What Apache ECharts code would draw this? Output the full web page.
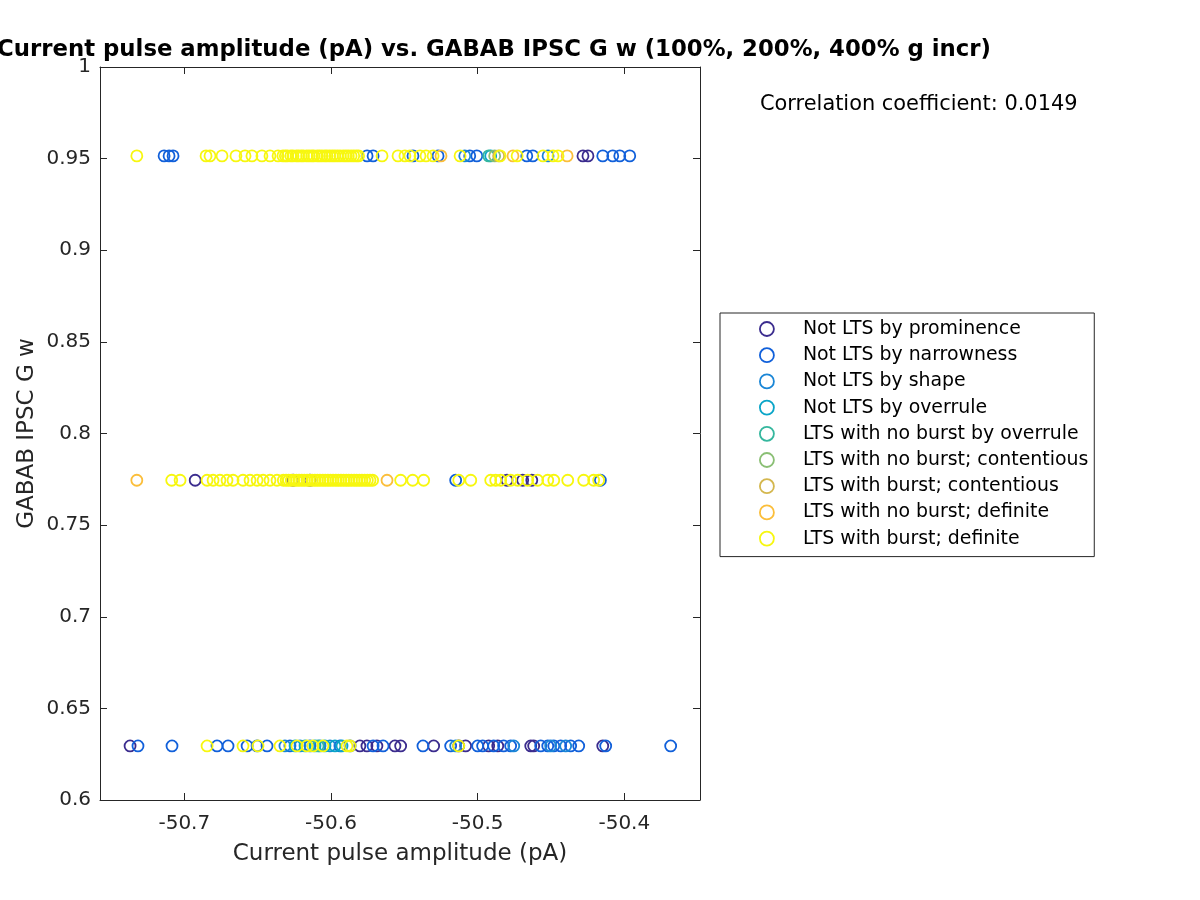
<!DOCTYPE html>
<html>
<head>
<meta charset="utf-8">
<script src="https://cdn.jsdelivr.net/npm/echarts@6/dist/echarts.min.js"></script>
<style>
html,body{margin:0;padding:0;background:#fff;}
#chart{width:1200px;height:900px;}
</style>
</head>
<body>
<div id="chart"></div>
<script>
// Row levels (GABAB IPSC G w)
const yHi = 0.9515, yMid = 0.7745, yLo = 0.6295;

const seriesNames = [
  'Not LTS by prominence','Not LTS by narrowness','Not LTS by shape','Not LTS by overrule',
  'LTS with no burst by overrule','LTS with no burst; contentious','LTS with burst; contentious',
  'LTS with no burst; definite','LTS with burst; definite'
];
const seriesColors = ['#3B2C8E','#1160DA','#1A86D6','#0AA5C8','#35B79E','#8ABF74','#D4B74E','#FBBE3A','#F7F70F'];

const xTicks = [-50.7, -50.6, -50.5, -50.4];
const yTicks = [0.6, 0.65, 0.7, 0.75, 0.8, 0.85, 0.9, 0.95, 1];

// Not LTS by prominence
const s1_hi = [-50.4282, -50.4248];
const s1_mid = [-50.6926, -50.6259, -50.6143, -50.4800, -50.4693, -50.4631];
const s1_lo = [-50.7370, -50.5803, -50.5755, -50.5687, -50.5564, -50.5525, -50.5300, -50.5129, -50.5082, -50.4925, -50.4863, -50.4638, -50.4618, -50.4147];
// Not LTS by narrowness
const s2_hi = [-50.7138, -50.7104, -50.7077, -50.5754, -50.5713, -50.5441, -50.5270, -50.5054, -50.5006, -50.4665, -50.4624, -50.4147, -50.4079, -50.4031, -50.3963];
const s2_mid = [-50.5150, -50.4163];
const s2_lo = [-50.7316, -50.7084, -50.6777, -50.6702, -50.6572, -50.6504, -50.6436, -50.6280, -50.6143, -50.5939, -50.5870, -50.5713, -50.5645, -50.5373, -50.5184, -50.5000, -50.4966, -50.4891, -50.4823, -50.4775, -50.4570, -50.4522, -50.4481, -50.4434, -50.4366, -50.4311, -50.4127, -50.3684];
// Not LTS by shape
const s3_hi = [-50.5088, -50.4520];
const s3_mid = [];
const s3_lo = [-50.6314, -50.6211, -50.6075, -50.6007, -50.5150, -50.4754, -50.4502, -50.4400];
// Not LTS by overrule
const s4_hi = [-50.4911];
const s4_mid = [];
const s4_lo = [-50.6245, -50.6177, -50.6109, -50.6041, -50.5973, -50.5925];
// LTS with no burst by overrule
const s5_hi = [-50.4925];
const s5_mid = [];
const s5_lo = [-50.6088];
// LTS with no burst; contentious
const s6_hi = [-50.4884];
const s6_mid = [];
const s6_lo = [];
// LTS with burst; contentious
const s7_hi = [-50.4857];
const s7_mid = [];
const s7_lo = [];
// LTS with no burst; definite
const s8_hi = [-50.5250, -50.4759, -50.4390];
const s8_mid = [-50.7324, -50.5618];
const s8_lo = [];
// LTS with burst; definite
const s9_hi = [-50.7324, -50.6852, -50.6825, -50.6743, -50.6648, -50.6586, -50.6539, -50.6471, -50.6416, -50.6361,
  -50.6328, -50.6311, -50.6297, -50.6274, -50.6259, -50.6236, -50.6221, -50.6203, -50.6188, -50.6166, -50.6149, -50.6131,
  -50.6117, -50.6094, -50.6078, -50.6061, -50.6042, -50.6027, -50.6009, -50.5991, -50.5974, -50.5956, -50.5938, -50.5917,
  -50.5899, -50.5882, -50.5863, -50.5845, -50.5827, -50.5812,
  -50.5652, -50.5543, -50.5496, -50.5462, -50.5393, -50.5352, -50.5304, -50.5120, -50.4847, -50.4731, -50.4554, -50.4486, -50.4452];
const s9_mid = [-50.7086, -50.7029, -50.6845, -50.6804, -50.6757, -50.6709, -50.6668, -50.6600, -50.6552, -50.6504, -50.6463, -50.6416, -50.6368,
  -50.6325, -50.6306, -50.6289, -50.6271, -50.6253, -50.6235, -50.6218, -50.6199, -50.6182, -50.6163, -50.6147, -50.6128,
  -50.6110, -50.6093, -50.6075, -50.6056, -50.6039, -50.6021, -50.6004, -50.5986, -50.5967, -50.5950, -50.5932, -50.5914,
  -50.5896, -50.5879, -50.5861, -50.5842, -50.5825, -50.5807, -50.5789, -50.5770, -50.5752, -50.5734, -50.5716,
  -50.5525, -50.5443, -50.5368, -50.5129, -50.5047, -50.4911, -50.4877, -50.4843, -50.4775, -50.4727, -50.4659, -50.4591,
  -50.4522, -50.4481, -50.4386, -50.4277, -50.4209, -50.4175];
const s9_lo = [-50.6845, -50.6600, -50.6498, -50.6348, -50.6232, -50.6164, -50.6123, -50.6055, -50.5891, -50.5870, -50.5129];

const groups = [
  [s1_hi, s1_mid, s1_lo], [s2_hi, s2_mid, s2_lo], [s3_hi, s3_mid, s3_lo],
  [s4_hi, s4_mid, s4_lo], [s5_hi, s5_mid, s5_lo], [s6_hi, s6_mid, s6_lo],
  [s7_hi, s7_mid, s7_lo], [s8_hi, s8_mid, s8_lo], [s9_hi, s9_mid, s9_lo]
];

const FONT = 'DejaVu Sans';
const INK = '#262626';
const xMin = -50.7575, xMax = -50.3484;

const series = seriesNames.map((name, i) => {
  const [hi, mid, lo] = groups[i];
  const data = [].concat(hi.map(x => [x, yHi]), mid.map(x => [x, yMid]), lo.map(x => [x, yLo]));
  return {
    name: name,
    type: 'scatter',
    data: data,
    symbol: 'circle',
    symbolSize: 11,
    itemStyle: { color: 'rgba(255,255,255,0)', borderColor: seriesColors[i], borderWidth: 1.8, opacity: 1 },
    emphasis: { disabled: true },
    animation: false
  };
});

const chart = echarts.init(document.getElementById('chart'), null, { renderer: 'canvas' });
const axisCommon = {
  axisLine: { show: true, onZero: false, lineStyle: { color: INK, width: 1 } },
  splitLine: { show: false }
};
chart.setOption({
  animation: false,
  backgroundColor: '#ffffff',
  title: {
    text: 'Current pulse amplitude (pA) vs. GABAB IPSC G w (100%, 200%, 400% g incr)',
    left: 489, top: 34, textAlign: 'center',
    textStyle: { fontFamily: FONT, fontSize: 22.8, fontWeight: 'bold', color: '#000' }
  },
  graphic: [{
    type: 'text', left: 760, top: 94,
    style: { text: 'Correlation coefficient: 0.0149', font: '20.9px "DejaVu Sans"', fill: '#000' }
  }],
  legend: {
    orient: 'vertical', left: 720, top: 313,
    padding: [6, 6, 8, 39],
    itemWidth: 14, itemHeight: 14, itemGap: 6.2,
    borderColor: INK, borderWidth: 1,
    icon: 'circle',
    itemStyle: { color: 'rgba(255,255,255,0)', borderWidth: 1.8 },
    textStyle: { fontFamily: FONT, fontSize: 18.9, color: '#000', lineHeight: 20, padding: [0, 0, 0, 24] },
    data: seriesNames.map((n, i) => ({ name: n, itemStyle: { borderColor: seriesColors[i], color: 'rgba(255,255,255,0)' } }))
  },
  grid: { left: 100, right: 500, top: 67, bottom: 100, containLabel: false },
  xAxis: [
    Object.assign({}, axisCommon, {
      type: 'value', position: 'bottom', min: xMin, max: xMax,
      name: 'Current pulse amplitude (pA)', nameLocation: 'middle', nameGap: 43,
      nameTextStyle: { fontFamily: FONT, fontSize: 23, color: INK },
      axisTick: { show: true, inside: true, length: 7, lineStyle: { color: INK }, customValues: xTicks },
      axisLabel: { show: true, customValues: xTicks, margin: 14, fontFamily: FONT, fontSize: 20, color: INK,
        formatter: v => v.toFixed(1) }
    }),
    Object.assign({}, axisCommon, {
      type: 'value', position: 'top', min: xMin, max: xMax,
      axisTick: { show: true, inside: true, length: 7, lineStyle: { color: INK }, customValues: xTicks },
      axisLabel: { show: false }
    })
  ],
  yAxis: [
    Object.assign({}, axisCommon, {
      type: 'value', position: 'left', min: 0.6, max: 1, interval: 0.05,
      name: 'GABAB IPSC G w', nameLocation: 'middle', nameGap: 61,
      nameTextStyle: { fontFamily: FONT, fontSize: 23, color: INK },
      axisTick: { show: true, inside: true, length: 7, lineStyle: { color: INK } },
      axisLabel: { show: true, margin: 9, fontFamily: FONT, fontSize: 20, color: INK,
        formatter: v => String(parseFloat(v.toFixed(2))) }
    }),
    Object.assign({}, axisCommon, {
      type: 'value', position: 'right', min: 0.6, max: 1, interval: 0.05,
      axisTick: { show: true, inside: true, length: 7, lineStyle: { color: INK } },
      axisLabel: { show: false }
    })
  ],
  series: series
});
</script>
</body>
</html>
